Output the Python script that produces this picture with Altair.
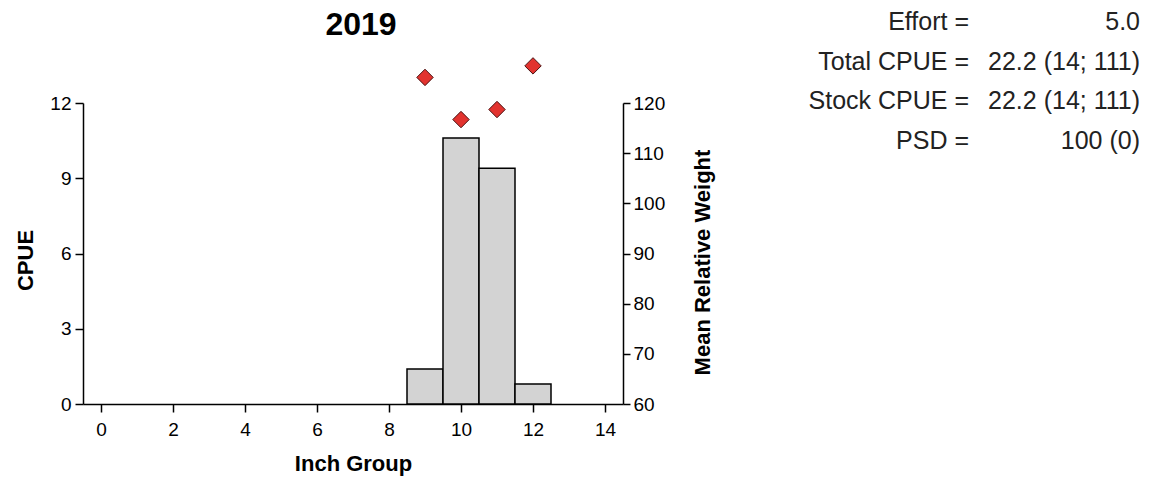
import altair as alt
import pandas as pd

# ---- data ----
inch = [9, 10, 11, 12]
cpue = [1.4, 10.6, 9.4, 0.8]
rel_weight = [125.1, 116.7, 118.7, 127.4]
x_ticks = [0, 2, 4, 6, 8, 10, 12, 14]
cpue_ticks = [0, 3, 6, 9, 12]
wr_ticks = [60, 70, 80, 90, 100, 110, 120]
year_title = ["2019"]
stat_labels = ["Effort =", "Total CPUE =", "Stock CPUE =", "PSD ="]
stat_values = ["5.0", "22.2 (14; 111)", "22.2 (14; 111)", "100 (0)"]

df = pd.DataFrame({"inch": inch, "cpue": cpue, "wr": rel_weight})
stats = pd.DataFrame({"label": stat_labels, "value": stat_values,
                      "row": list(range(len(stat_labels)))})
title_df = pd.DataFrame({"t": year_title})

FONT = "Liberation Sans"
W, H = 540, 301
PAD_L, PAD_T = 83, 103

common_axis = dict(grid=False, domainColor="black", tickColor="black",
                   domainWidth=1.5, tickWidth=1.5, labelColor="black",
                   titleColor="black", labelFont=FONT, titleFont=FONT,
                   labelFontSize=19, titleFontSize=22,
                   titleFontWeight="bold")

xscale = alt.Scale(domain=[-0.5, 14.5], nice=False, zero=False)
xaxis = alt.Axis(values=x_ticks, title="Inch Group", format="d",
                 tickSize=8, labelPadding=8,
                 titleX=270, titleY=66, titleBaseline="alphabetic",
                 **common_axis)

base = alt.Chart(df)

bars = base.transform_calculate(
    lo="datum.inch - 0.5", hi="datum.inch + 0.5", zero="0"
).mark_bar(fill="#d3d3d3", stroke="black", strokeWidth=1.5).encode(
    x=alt.X("lo:Q", scale=xscale, axis=xaxis),
    x2="hi:Q",
    y=alt.Y("cpue:Q", scale=alt.Scale(domain=[0, 12], nice=False),
            axis=alt.Axis(values=cpue_ticks, title="CPUE", orient="left",
                          tickSize=8, labelPadding=4,
                          titleAngle=270, titleX=-51, titleY=157,
                          titleBaseline="alphabetic", **common_axis)),
    y2="zero:Q",
)

points = base.mark_point(shape="diamond", filled=True, size=270,
                         fill="#e2332f", stroke="#4a1010", strokeWidth=1,
                         opacity=1, clip=False).encode(
    x=alt.X("inch:Q", scale=xscale, axis=xaxis),
    y=alt.Y("wr:Q", scale=alt.Scale(domain=[60, 120], nice=False),
            axis=alt.Axis(values=wr_ticks, title="Mean Relative Weight",
                          orient="right", tickSize=7, labelPadding=3,
                          titleAngle=270, titleX=86, titleY=159,
                          titleBaseline="alphabetic", **common_axis)),
)

row_scale = alt.Scale(type="point", range=[-73, 46], padding=0)

stat_lab = alt.Chart(stats).mark_text(
    align="right", baseline="alphabetic", font=FONT, fontSize=25,
    color="#222222").encode(
    x=alt.value(886),
    y=alt.Y("row:O", scale=row_scale, axis=None),
    text="label:N",
)
stat_val = alt.Chart(stats).mark_text(
    align="right", baseline="alphabetic", font=FONT, fontSize=25,
    color="#222222").encode(
    x=alt.value(1057),
    y=alt.Y("row:O", scale=row_scale, axis=None),
    text="value:N",
)
title = alt.Chart(title_df).mark_text(
    align="center", baseline="alphabetic", font=FONT, fontSize=32,
    fontWeight="bold", color="black").encode(
    x=alt.value(278), y=alt.value(-68), text="t:N")

chart = alt.layer(bars, points, stat_lab, stat_val, title).resolve_scale(
    y="independent"
).properties(
    width=W, height=H,
    background="white",
    autosize=alt.AutoSizeParams(type="none"),
    padding={"left": PAD_L, "top": PAD_T, "right": 1149 - PAD_L - W,
             "bottom": 479 - PAD_T - H},
).configure_view(stroke=None)

chart.save("out.html", embed_options={"renderer": "svg", "actions": False})
